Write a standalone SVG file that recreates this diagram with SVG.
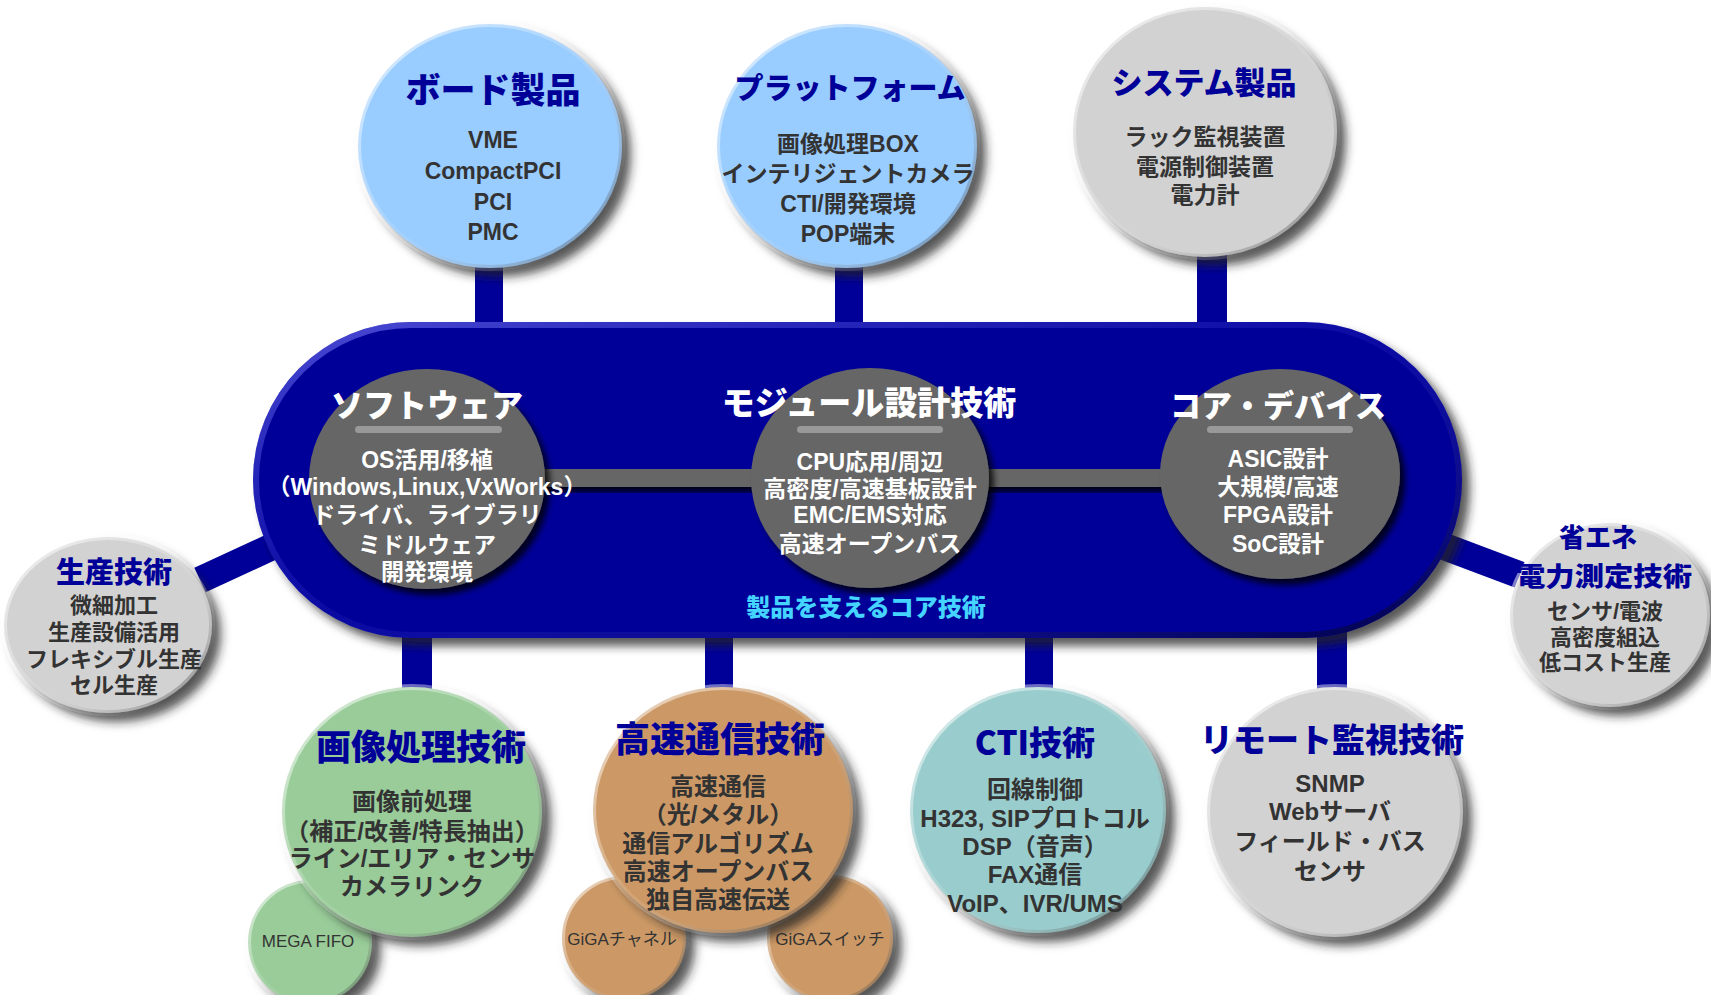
<svg xmlns="http://www.w3.org/2000/svg" width="1711" height="995" viewBox="0 0 1711 995">
<defs>
<filter id="sh" x="-20%" y="-20%" width="150%" height="150%">
<feGaussianBlur in="SourceAlpha" stdDeviation="5"/>
<feOffset dx="8" dy="8" result="b"/>
<feFlood flood-color="#222" flood-opacity="0.75"/>
<feComposite in2="b" operator="in"/>
<feMerge><feMergeNode/><feMergeNode in="SourceGraphic"/></feMerge>
</filter>
<filter id="sh2" x="-20%" y="-20%" width="150%" height="150%">
<feGaussianBlur in="SourceAlpha" stdDeviation="3"/>
<feOffset dx="5" dy="6" result="b"/>
<feFlood flood-color="#000" flood-opacity="0.8"/>
<feComposite in2="b" operator="in"/>
<feMerge><feMergeNode/><feMergeNode in="SourceGraphic"/></feMerge>
</filter>
<linearGradient id="rim" x1="0" y1="0" x2="1" y2="1">
<stop offset="0" stop-color="#fff" stop-opacity="0.7"/>
<stop offset="0.5" stop-color="#fff" stop-opacity="0.1"/>
<stop offset="1" stop-color="#000" stop-opacity="0.45"/>
</linearGradient>
<linearGradient id="pillrim" x1="0" y1="0" x2="1" y2="1">
<stop offset="0" stop-color="#8080ff" stop-opacity="0.6"/>
<stop offset="0.5" stop-color="#3333cc" stop-opacity="0.2"/>
<stop offset="1" stop-color="#000033" stop-opacity="0.8"/>
</linearGradient>
</defs>
<style>
.c{stroke:url(#rim);stroke-width:6;filter:url(#sh)}
.blue{fill:#99ccff}
.gray{fill:#d2d2d2}
.green{fill:#99cc99}
.tan{fill:#cc9966}
.teal{fill:#99cccc}
.dg{fill:#666;filter:url(#sh2)}
.ttl{font-family:"Noto Sans CJK JP",sans-serif;font-weight:900;fill:#000099;text-anchor:middle}
.itm{font-family:"Liberation Sans","Noto Sans CJK JP",sans-serif;font-weight:700;fill:#333;text-anchor:middle;font-size:23px}
.wt{font-family:"Noto Sans CJK JP",sans-serif;font-weight:900;fill:#fff;text-anchor:middle}
.wi{font-family:"Liberation Sans","Noto Sans CJK JP",sans-serif;font-weight:700;fill:#fff;text-anchor:middle;font-size:23px}
.sm{font-family:"Liberation Sans","Noto Sans CJK JP",sans-serif;fill:#333;text-anchor:middle;font-size:17px}
.ul{fill:#999}
.cn{fill:#000099}
</style>
<rect width="1711" height="995" fill="#fff"/>

<g id="connectors">
<rect class="cn" x="475" y="262" width="28" height="66"/>
<rect class="cn" x="835" y="262" width="28" height="66"/>
<rect class="cn" x="1197" y="250" width="30" height="78"/>
<line x1="200" y1="580" x2="280" y2="543" stroke="#000099" stroke-width="27"/>
<line x1="1435" y1="543" x2="1520" y2="575" stroke="#000099" stroke-width="27"/>
<rect class="cn" x="402" y="630" width="30" height="62"/>
<rect class="cn" x="705" y="630" width="28" height="60"/>
<rect class="cn" x="1025" y="630" width="28" height="60"/>
<rect class="cn" x="1317" y="630" width="30" height="60"/>
</g>

<g id="core">
<rect x="253" y="322" width="1209" height="316" rx="158" fill="#000099" filter="url(#sh)"/>
<rect x="256" y="325" width="1203" height="310" rx="155" fill="none" stroke="url(#pillrim)" stroke-width="6"/>
<rect x="427" y="469" width="853" height="18" class="dg"/>
<g id="software">
<ellipse class="dg" cx="427" cy="479" rx="118" ry="110"/>
<text class="wt" x="427" y="417" font-size="32">ソフトウェア</text>
<rect class="ul" x="355" y="426" width="147" height="7" rx="3.5"/>
<text class="wi" x="427" y="468">OS活用/移植</text>
<text class="wi" x="427" y="495">（Windows,Linux,VxWorks）</text>
<text class="wi" x="427" y="523">ドライバ、ライブラリ</text>
<text class="wi" x="427" y="553">ミドルウェア</text>
<text class="wi" x="427" y="580">開発環境</text>
</g>
<g id="module">
<ellipse class="dg" cx="870" cy="478" rx="119" ry="110"/>
<text class="wt" x="869" y="415" font-size="33">モジュール設計技術</text>
<rect class="ul" x="797" y="426" width="146" height="7" rx="3.5"/>
<text class="wi" x="870" y="470">CPU応用/周辺</text>
<text class="wi" x="870" y="497">高密度/高速基板設計</text>
<text class="wi" x="870" y="523">EMC/EMS対応</text>
<text class="wi" x="870" y="552">高速オープンバス</text>
</g>
<g id="device">
<ellipse class="dg" cx="1280" cy="474" rx="120" ry="105"/>
<text class="wt" x="1278" y="417" font-size="31">コア・デバイス</text>
<rect class="ul" x="1207" y="426" width="146" height="7" rx="3.5"/>
<text class="wi" x="1278" y="467">ASIC設計</text>
<text class="wi" x="1278" y="495">大規模/高速</text>
<text class="wi" x="1278" y="523">FPGA設計</text>
<text class="wi" x="1278" y="552">SoC設計</text>
</g>
<text x="866" y="616" font-family="'Noto Sans CJK JP',sans-serif" font-weight="900" font-size="24" fill="#44d4ff" text-anchor="middle">製品を支えるコア技術</text>
</g>

<g id="board">
<ellipse class="c blue" cx="490" cy="146" rx="132" ry="122"/>
<text class="ttl" x="493" y="103" font-size="35">ボード製品</text>
<text class="itm" x="493" y="148">VME</text>
<text class="itm" x="493" y="179">CompactPCI</text>
<text class="itm" x="493" y="210">PCI</text>
<text class="itm" x="493" y="240">PMC</text>
</g>

<g id="platform">
<ellipse class="c blue" cx="847" cy="146" rx="130" ry="122"/>
<text class="ttl" x="850" y="99" font-size="29">プラットフォーム</text>
<text class="itm" x="848" y="152">画像処理BOX</text>
<text class="itm" x="848" y="182">インテリジェントカメラ</text>
<text class="itm" x="848" y="212">CTI/開発環境</text>
<text class="itm" x="848" y="242">POP端末</text>
</g>

<g id="system">
<ellipse class="c gray" cx="1205" cy="132" rx="132" ry="125"/>
<text class="ttl" x="1204" y="94" font-size="31">システム製品</text>
<text class="itm" x="1205" y="145" font-size="24">ラック監視装置</text>
<text class="itm" x="1205" y="175" font-size="24">電源制御装置</text>
<text class="itm" x="1205" y="203" font-size="24">電力計</text>
</g>

<g id="production">
<ellipse class="c gray" cx="108" cy="625" rx="104" ry="88"/>
<text class="ttl" x="114" y="583" font-size="29">生産技術</text>
<text class="itm" x="114" y="613" style="font-size:22px">微細加工</text>
<text class="itm" x="114" y="640" style="font-size:22px">生産設備活用</text>
<text class="itm" x="114" y="667" style="font-size:22px">フレキシブル生産</text>
<text class="itm" x="114" y="693" style="font-size:22px">セル生産</text>
</g>

<g id="energy">
<ellipse class="c gray" cx="1610" cy="615" rx="100" ry="92"/>
<text class="ttl" x="1598" y="547" font-size="26" textLength="78" lengthAdjust="spacingAndGlyphs">省エネ</text>
<text class="ttl" x="1604" y="586" font-size="26" textLength="176" lengthAdjust="spacingAndGlyphs">電力測定技術</text>
<text class="itm" x="1605" y="619" style="font-size:22px">センサ/電波</text>
<text class="itm" x="1605" y="645" style="font-size:22px">高密度組込</text>
<text class="itm" x="1605" y="670" style="font-size:22px">低コスト生産</text>
</g>

<g id="megafifo">
<circle class="c green" cx="310" cy="942" r="62"/>
<text class="sm" x="308" y="947">MEGA FIFO</text>
</g>
<g id="image">
<ellipse class="c green" cx="412" cy="812" rx="130" ry="125"/>
<text class="ttl" x="421" y="760" font-size="35">画像処理技術</text>
<text class="itm" x="412" y="810" style="font-size:24px">画像前処理</text>
<text class="itm" x="412" y="840" style="font-size:24px">（補正/改善/特長抽出）</text>
<text class="itm" x="412" y="867" style="font-size:24px">ライン/エリア・センサ</text>
<text class="itm" x="412" y="895" style="font-size:24px">カメラリンク</text>
</g>

<g id="gigach">
<circle class="c tan" cx="624" cy="938" r="62"/>
<text class="sm" x="622" y="945">GiGAチャネル</text>
</g>
<g id="gigasw">
<circle class="c tan" cx="830" cy="938" r="63"/>
<text class="sm" x="830" y="945">GiGAスイッチ</text>
</g>
<g id="highspeed">
<ellipse class="c tan" cx="723" cy="810" rx="130" ry="123"/>
<text class="ttl" x="720" y="752" font-size="35">高速通信技術</text>
<text class="itm" x="718" y="795" style="font-size:24px">高速通信</text>
<text class="itm" x="718" y="823" style="font-size:24px">（光/メタル）</text>
<text class="itm" x="718" y="852" style="font-size:24px">通信アルゴリズム</text>
<text class="itm" x="718" y="880" style="font-size:24px">高速オープンバス</text>
<text class="itm" x="718" y="908" style="font-size:24px">独自高速伝送</text>
</g>

<g id="cti">
<ellipse class="c teal" cx="1038" cy="810" rx="128" ry="123"/>
<text class="ttl" x="1035" y="755" font-size="33">CTI技術</text>
<text class="itm" x="1035" y="798" style="font-size:24px">回線制御</text>
<text class="itm" x="1035" y="827" style="font-size:24px">H323, SIPプロトコル</text>
<text class="itm" x="1035" y="855" style="font-size:24px">DSP（音声）</text>
<text class="itm" x="1035" y="883" style="font-size:24px">FAX通信</text>
<text class="itm" x="1035" y="912" style="font-size:24px">VoIP、IVR/UMS</text>
</g>

<g id="remote">
<ellipse class="c gray" cx="1335" cy="812" rx="128" ry="125"/>
<text class="ttl" x="1332" y="752" font-size="33">リモート監視技術</text>
<text class="itm" x="1330" y="792" style="font-size:24px">SNMP</text>
<text class="itm" x="1330" y="820" style="font-size:24px">Webサーバ</text>
<text class="itm" x="1330" y="850" style="font-size:24px">フィールド・バス</text>
<text class="itm" x="1330" y="880" style="font-size:24px">センサ</text>
</g>
</svg>
